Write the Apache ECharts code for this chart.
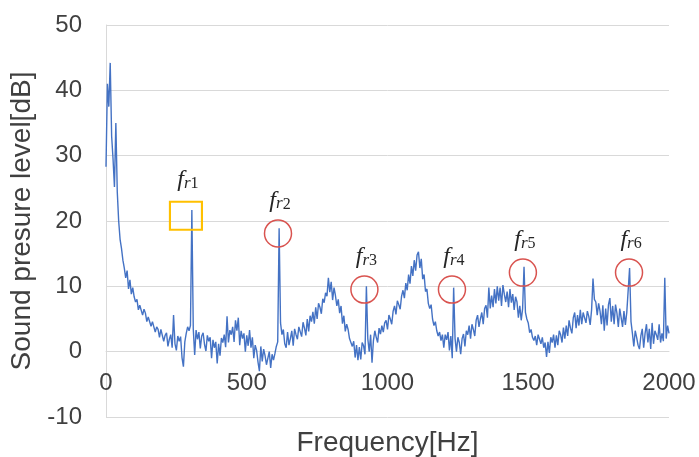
<!DOCTYPE html>
<html>
<head>
<meta charset="utf-8">
<script src="https://cdn.jsdelivr.net/npm/echarts@6/dist/echarts.min.js"></script>
<style>html,body{margin:0;padding:0;background:#fff}#chart{width:699px;height:457px}</style>
</head>
<body>
<div id="chart"></div>
<script>
// Frequency resolution of the sampled spectrum (Hz per sample)
const freqStep = 5;
// Sound pressure level [dB], one value every 5 Hz from 0 to 2000 Hz
const splDb = [
  28.3, 41.0, 37.5, 44.2, 33.0, 29.5, 25.2, 35.0, 24.5, 20.0, 17.2, 15.8, 14.0, 12.8, 11.3, 12.4, 9.6, 11.0, 8.8, 9.8,
  8.4, 7.6, 8.0, 6.4, 7.1, 6.8, 5.6, 6.5, 5.9, 4.6, 5.3, 5.0, 3.9, 4.6, 4.9, 3.0, 3.8, 3.4, 2.2, 3.4,
  3.1, 1.6, 2.5, 2.9, 0.8, 1.9, 2.6, 0.6, 5.6, 1.2, 0.2, 2.4, 1.6, 2.3, -0.9, -2.3, 1.5, 2.8, 3.8, 3.2,
  4.0, 21.7, 3.5, -0.5, 3.3, 1.9, 3.0, 0.5, 2.4, 2.9, 1.1, 0.1, 2.5, 1.6, 2.2, -1.0, 1.8, 0.6, 1.5, -1.8,
  1.2, -0.6, 2.1, 1.4, 2.6, 0.7, 5.4, 1.4, 3.3, 2.6, 3.8, 1.5, 4.8, 3.2, 5.2, 1.0, 3.2, 2.0, 2.8, 0.0,
  2.5, 0.9, 3.3, 0.6, 2.2, -1.0, 1.0, 0.2, -1.6, -3.0, 0.8, -1.5, 0.4, -0.6, -2.0, -1.7, 0.0, -2.5, -0.4, -1.3,
  -0.3, 0.8, 1.5, 18.9, 4.4, 2.6, 3.4, 1.2, 0.6, 3.0, 1.0, 2.0, 3.2, 0.9, 3.5, 2.6, 1.9, 3.8, 4.1, 2.3,
  4.5, 3.6, 2.5, 5.0, 3.1, 5.5, 4.6, 6.1, 4.3, 6.8, 5.0, 7.4, 6.8, 5.8, 8.1, 7.5, 9.0, 8.5, 11.3, 9.1,
  10.7, 7.9, 9.8, 8.6, 7.0, 8.0, 5.9, 7.0, 4.3, 5.5, 3.1, 4.2, 3.4, 2.0, 2.2, 0.8, 1.6, -0.9, 1.0, -1.3,
  0.7, -1.2, 1.4, 0.9, -0.4, 10.0, 2.0, 0.0, 2.6, -1.7, 1.7, 3.2, 2.2, 1.4, 3.6, 2.7, 4.0, 3.0, 4.4, 4.8,
  3.4, 5.6, 5.0, 4.2, 6.2, 7.0, 5.7, 7.8, 7.2, 6.5, 8.5, 9.4, 8.2, 10.5, 9.4, 11.8, 10.4, 13.1, 11.6, 14.0,
  12.4, 14.8, 15.3, 12.8, 14.2, 11.1, 11.8, 9.2, 9.6, 7.4, 6.6, 7.2, 5.0, 4.0, 4.6, 3.2, 2.4, 3.0, 1.7, 2.6,
  0.6, 2.6, 1.8, 3.0, 0.2, 2.4, -1.0, 9.8, 2.0, 0.0, 2.2, 1.4, -0.4, 2.0, 2.7, 0.8, 3.2, 2.6, 4.0, 2.0,
  4.2, 3.4, 2.4, 4.8, 5.6, 3.8, 5.0, 6.0, 4.2, 6.6, 7.1, 5.2, 9.8, 6.6, 8.6, 6.8, 9.6, 7.4, 10.0, 7.8,
  9.8, 7.0, 10.2, 8.8, 7.6, 9.2, 6.8, 9.6, 7.5, 8.8, 6.4, 8.4, 7.6, 5.2, 7.0, 4.8, 6.6, 13.0, 6.0, 5.0,
  4.4, 2.9, 3.4, 2.2, 1.7, 2.4, 1.0, 2.6, 1.9, 1.2, 2.2, 0.6, 1.4, -0.8, 1.5, -0.2, 2.2, 1.4, 2.6, 0.6,
  2.5, 1.0, 3.2, 2.6, 1.4, 3.7, 2.0, 4.0, 2.4, 4.8, 3.6, 2.8, 5.2, 6.0, 3.6, 5.6, 4.0, 6.4, 4.2, 6.0,
  6.1, 4.4, 6.2, 5.4, 4.1, 6.4, 11.2, 8.0, 7.6, 5.6, 7.4, 6.2, 4.2, 7.1, 3.2, 6.6, 4.0, 7.2, 8.2, 4.6,
  7.0, 4.2, 7.2, 5.9, 3.8, 6.6, 5.2, 3.8, 6.2, 4.1, 6.0, 5.8, 12.8, 4.6, 2.8, 0.8, 3.2, 2.2, 1.0, 0.4,
  2.4, 3.5, 0.6, 2.8, 4.2, 1.4, 3.5, 0.4, 4.4, 1.2, 3.2, 2.6, 1.8, 4.2, 1.4, 2.8, 1.6, 11.3, 2.0, 4.0,
  2.8
];
// Annotation markers (resonance frequencies)
const annSub = ['r1', 'r2', 'r3', 'r4', 'r5', 'r6'];
const annFreq = [284, 611, 918, 1229, 1481, 1858];
const annDb = [20.8, 18.1, 9.5, 9.5, 12.1, 12.1];
const annShape = ['rect', 'circle', 'circle', 'circle', 'circle', 'circle'];

const chart = echarts.init(document.getElementById('chart'), null, { renderer: 'canvas' });

const labelColor = '#404040';
const gridColor = '#D9D9D9';
const gridTop = 25, gridBottom = 40, chartHeight = 457;
// the horizontal axis crosses the vertical axis at 0 dB (one 10 dB band above the bottom)
const xAxisShift = (chartHeight - gridTop - gridBottom) / 6;

const markData = annSub.map((s, i) => {
  const isRect = annShape[i] === 'rect';
  const color = isRect ? '#FFC000' : '#D9534F';
  return {
    coord: [annFreq[i], annDb[i]],
    symbol: isRect ? 'rect' : 'circle',
    symbolSize: isRect ? [32, 28] : 27,
    itemStyle: { color: 'rgba(0,0,0,0)', borderColor: color, borderWidth: isRect ? 2 : 1.5 },
    label: {
      show: true,
      position: 'inside',
      offset: [2, isRect ? -37 : -34],
      formatter: '{f|f}{s|' + s.charAt(0) + '}{n|' + s.slice(1) + '}',
      rich: {
        f: { fontFamily: 'Liberation Serif', fontStyle: 'italic', fontSize: 24, color: '#262626', verticalAlign: 'bottom', lineHeight: 26 },
        s: { fontFamily: 'Liberation Serif', fontStyle: 'italic', fontSize: 17, color: '#262626', verticalAlign: 'bottom', lineHeight: 20, padding: [6, 0, 0, 0] },
        n: { fontFamily: 'Liberation Serif', fontSize: 16, color: '#262626', verticalAlign: 'bottom', lineHeight: 20, padding: [6, 0, 0, 0] }
      }
    }
  };
});

chart.setOption({
  animation: false,
  backgroundColor: '#ffffff',
  grid: { left: 106, right: 30, top: gridTop, bottom: gridBottom, containLabel: false, outerBoundsMode: 'none' },
  xAxis: {
    type: 'value',
    min: 0,
    max: 2000,
    interval: 500,
    offset: -xAxisShift,
    name: 'Frequency[Hz]',
    nameLocation: 'middle',
    nameGap: 78,
    nameTextStyle: { fontFamily: 'Liberation Sans', fontSize: 28, color: labelColor },
    axisLine: { show: true, onZero: false, lineStyle: { color: gridColor, width: 1 } },
    axisTick: { show: false },
    axisLabel: { fontFamily: 'Liberation Sans', fontSize: 24, color: labelColor, margin: 20, formatter: v => String(v) },
    splitLine: { show: false }
  },
  yAxis: {
    type: 'value',
    min: -10,
    max: 50,
    interval: 10,
    name: 'Sound presure level[dB]',
    nameLocation: 'middle',
    nameGap: 60,
    nameTextStyle: { fontFamily: 'Liberation Sans', fontSize: 28, color: labelColor },
    axisLine: { show: true, onZero: false, lineStyle: { color: gridColor, width: 1 } },
    axisTick: { show: false },
    axisLabel: { fontFamily: 'Liberation Sans', fontSize: 24, color: labelColor, margin: 24, formatter: v => String(v) },
    splitLine: { show: true, lineStyle: { color: gridColor, width: 1 } }
  },
  series: [{
    type: 'line',
    data: splDb.map((v, i) => [i * freqStep, v]),
    showSymbol: false,
    symbol: 'none',
    lineStyle: { color: '#4472C4', width: 1.4 },
    silent: true,
    markPoint: { silent: true, data: markData }
  }]
});
</script>
</body>
</html>
